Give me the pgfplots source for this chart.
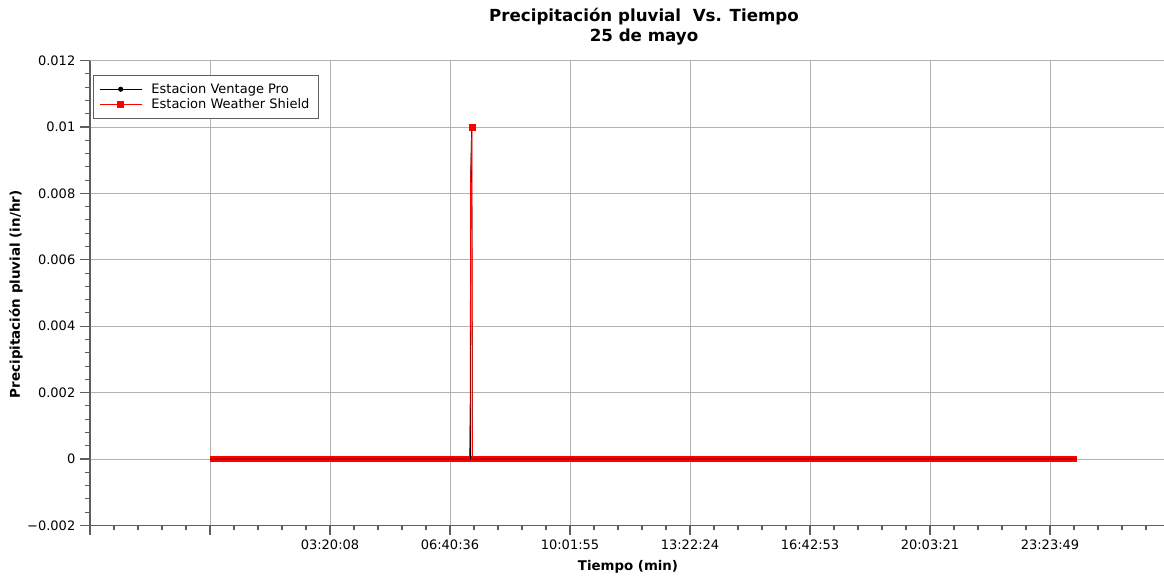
\documentclass[border=0pt]{standalone}
\usepackage{pgfplots}
\pgfplotsset{compat=1.18}
\usepackage{fontspec}
\setmainfont{DejaVu Sans}
\definecolor{axgray}{RGB}{95,95,95}
\definecolor{gridgray}{RGB}{178,178,178}
\begin{document}
\begin{tikzpicture}
\useasboundingbox (0,0) rectangle (873pt,432.75pt);
\begin{axis}[
  at={(67.5pt,38.7pt)}, anchor=south west,
  width=805.5pt, height=348.6pt, scale only axis,
  xmin=-3.3467, xmax=26.556, ymin=-0.002, ymax=0.012,
  axis x line=bottom, axis y line=left,
  axis line style={-, draw=axgray, line width=1.1pt},
  xtick={-3.3467,-0.0056,3.3355,6.6766,10.0177,13.3588,16.6999,20.041,23.3821},
  xticklabels={,,03:20:08,06:40:36,10:01:55,13:22:24,16:42:53,20:03:21,23:23:49},
  minor xtick={-2.67848,-2.01026,...,26.5},
  ytick={-0.002,0,0.002,0.004,0.006,0.008,0.01,0.012},
  yticklabels={−0.002,0,0.002,0.004,0.006,0.008,0.01,0.012},
  scaled y ticks=false,
  minor y tick num=4,
  tick align=outside,
  major tick length=7.5pt, minor tick length=3.75pt,
  every tick/.style={draw=axgray, line width=0.8pt},
  grid=major, major grid style={draw=gridgray, line width=0.6pt},
  tick label style={font=\fontsize{9.75}{12}\selectfont, text=black},
  legend style={at={(0.0028,0.969)}, anchor=north west, draw=axgray,
    font=\fontsize{9.75}{12}\selectfont, row sep=-1.5pt, inner xsep=4.5pt, inner ysep=4pt,
    cells={anchor=west},
    /tikz/every odd column/.append style={column sep=5pt}},
  legend image code/.code={\draw[mark indices={2}] plot coordinates {(0pt,0pt) (15.75pt,0pt) (31.5pt,0pt)};},
]
\addplot[red, line width=4.5pt, forget plot] coordinates {(0,0) (24.13,0)};
\addplot[black, line width=0.6pt, mark=*, mark size=1.6pt, mark indices={4}]
  coordinates {(0,0) (7.245,0) (7.25,0.0084) (7.28,0.01) (7.30,0) (24.13,0)};
\addplot[red, line width=0.6pt, mark=square*, mark size=2.25pt, mark indices={5}]
  coordinates {(0,0) (7.22,0) (7.24,0.0019) (7.25,0.0084) (7.287,0.01) (7.30,0) (24.13,0)};
\legend{Estacion Ventage Pro, Estacion Weather Shield}
\end{axis}
\node[font=\bfseries\fontsize{12.5}{15}\selectfont] at (483pt,420pt) {Precipitación pluvial\ \ Vs. Tiempo};
\node[font=\bfseries\fontsize{12.5}{15}\selectfont] at (483pt,405pt) {25 de mayo};
\node[font=\bfseries\fontsize{10.1}{12}\selectfont, rotate=90] at (12pt,212pt) {Precipitación pluvial (in/hr)};
\node[font=\bfseries\fontsize{10}{12}\selectfont] at (471pt,7.5pt) {Tiempo (min)};
\end{tikzpicture}
\end{document}
